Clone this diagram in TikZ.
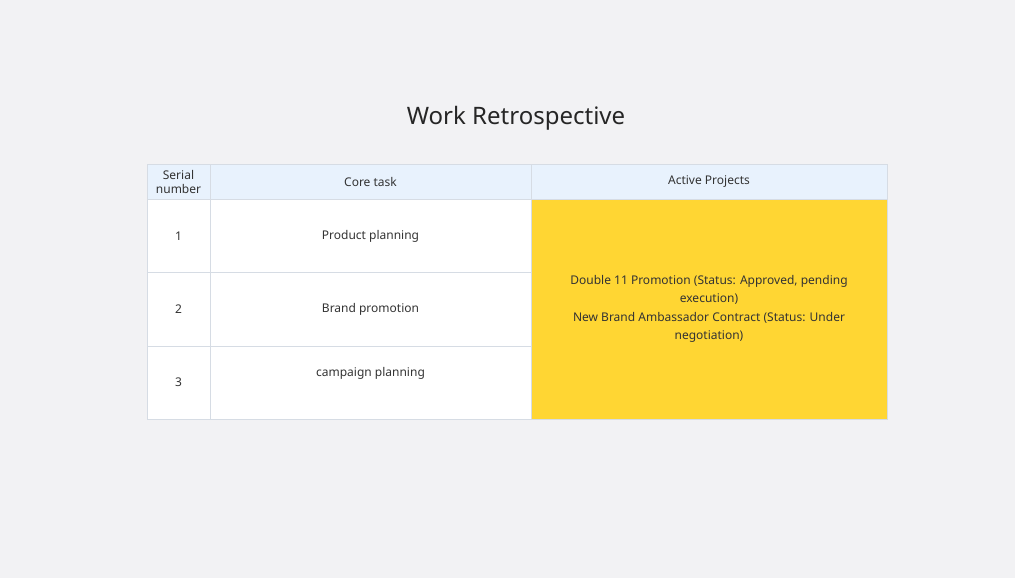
\documentclass[tikz,border=0pt]{standalone}
\usepackage{fontspec}
\setmainfont{Noto Sans}
\definecolor{bg}{HTML}{F2F2F4}
\definecolor{hdr}{HTML}{E8F2FD}
\definecolor{ln}{HTML}{D6DCE4}
\definecolor{yel}{HTML}{FFD633}
\definecolor{txt}{HTML}{333333}
\tikzset{cell/.style={draw=ln,line width=0.8pt},
 lab/.style={text=txt,font=\fontsize{12}{15}\selectfont,align=center}}
\begin{document}
\begin{tikzpicture}[x=1pt,y=-1pt]
\fill[bg] (0,0) rectangle (1015,578);
\useasboundingbox (0,0) rectangle (1015,578);
\node[text=black!85,font=\fontsize{24}{28}\selectfont\bfseries] (title) at (516,118) {Work Retrospective};
\fill[hdr] (147,164) rectangle (887,199);
\fill[white] (147,199) rectangle (531,419);
\fill[yel] (531,199) rectangle (887,419);
\draw[cell] (147,164) rectangle (887,419);
\draw[cell] (147,199) -- (887,199);
\draw[cell] (210,164) -- (210,419);
\draw[cell] (531,164) -- (531,419);
\draw[cell] (147,272) -- (531,272);
\draw[cell] (147,346) -- (531,346);
\node[lab,font=\fontsize{12}{14}\selectfont] (h1) at (178.5,182) {Serial\\number};
\node[lab] (h2) at (370.5,182) {Core task};
\node[lab] (h3) at (709,182) {Active Projects};
\node[lab] (n1) at (178.5,236) {1};
\node[lab] (n2) at (178.5,309) {2};
\node[lab] (n3) at (178.5,382) {3};
\node[lab] (t1) at (370.5,236) {Product planning};
\node[lab] (t2) at (370.5,309) {Brand promotion};
\node[lab] (t3) at (370.5,373) {campaign planning};
\node[lab,font=\fontsize{12}{18.3}\selectfont] (p) at (709,309) {Double 11 Promotion (Status: Approved, pending\\execution)\\New Brand Ambassador Contract (Status: Under\\negotiation)};
\end{tikzpicture}
\end{document}
